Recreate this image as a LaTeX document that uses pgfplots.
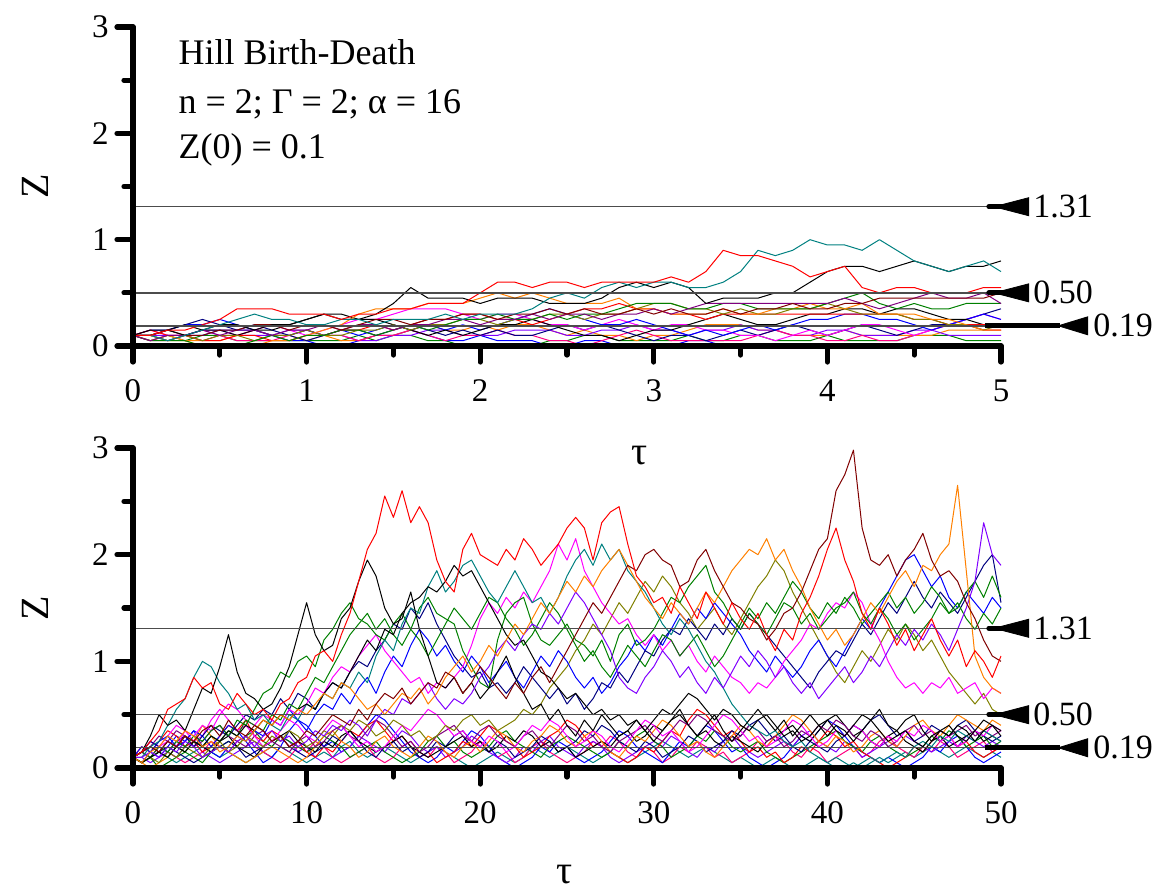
\documentclass[border=0pt]{standalone}
\usepackage{pgfplots}
\usepackage{pgfplotstable}
\pgfplotsset{compat=1.18}
\usepackage{fontspec}
\setmainfont{Liberation Serif}

\definecolor{cRed}{RGB}{255,0,0}
\definecolor{cBlue}{RGB}{0,0,255}
\definecolor{cGreen}{RGB}{0,128,0}
\definecolor{cTeal}{RGB}{0,128,128}
\definecolor{cNavy}{RGB}{0,0,128}
\definecolor{cMagenta}{RGB}{255,0,255}
\definecolor{cOrange}{RGB}{255,128,0}
\definecolor{cViolet}{RGB}{128,0,255}
\definecolor{cWine}{RGB}{128,0,0}
\definecolor{cOlive}{RGB}{128,128,0}
\definecolor{cPink}{RGB}{255,0,128}
\definecolor{cPurple}{RGB}{128,0,128}

% short runs, tau = 0..5 (one row per trajectory)
\pgfplotstableread[header=false,row sep=\\]{
t 0 0.1 0.2 0.3 0.4 0.5 0.6 0.7 0.8 0.9
1 1.1 1.2 1.3 1.4 1.5 1.6 1.7 1.8 1.9
2 2.1 2.2 2.3 2.4 2.5 2.6 2.7 2.8 2.9
3 3.1 3.2 3.3 3.4 3.5 3.6 3.7 3.8 3.9
4 4.1 4.2 4.3 4.4 4.5 4.6 4.7 4.8 4.9
5 \\
ra 0.10 0.10 0.15 0.15 0.20 0.25 0.35 0.35 0.35 0.30
0.30 0.30 0.25 0.30 0.30 0.35 0.35 0.40 0.40 0.40
0.50 0.60 0.60 0.55 0.60 0.60 0.55 0.60 0.60 0.60
0.60 0.65 0.60 0.70 0.90 0.85 0.85 0.80 0.75 0.65
0.70 0.75 0.55 0.50 0.55 0.55 0.50 0.50 0.50 0.55
0.55 \\
ca 0.10 0.10 0.05 0.10 0.15 0.20 0.25 0.30 0.25 0.25
0.20 0.20 0.25 0.25 0.20 0.25 0.25 0.25 0.30 0.25
0.30 0.30 0.30 0.35 0.45 0.50 0.45 0.55 0.60 0.55
0.60 0.60 0.55 0.55 0.60 0.70 0.90 0.85 0.90 1.00
0.95 0.95 0.90 1.00 0.90 0.80 0.75 0.70 0.75 0.80
0.70 \\
ka 0.10 0.15 0.15 0.10 0.15 0.20 0.20 0.15 0.20 0.20
0.25 0.30 0.25 0.25 0.30 0.40 0.55 0.45 0.45 0.45
0.40 0.45 0.45 0.45 0.40 0.40 0.40 0.45 0.55 0.60
0.55 0.60 0.55 0.40 0.45 0.45 0.45 0.50 0.50 0.60
0.70 0.75 0.75 0.70 0.75 0.80 0.75 0.70 0.75 0.75
0.80 \\
wa 0.10 0.10 0.15 0.10 0.10 0.15 0.15 0.20 0.20 0.15
0.20 0.20 0.15 0.20 0.25 0.25 0.20 0.25 0.25 0.30
0.30 0.25 0.30 0.30 0.35 0.30 0.35 0.30 0.30 0.35
0.30 0.35 0.30 0.30 0.35 0.30 0.35 0.35 0.40 0.35
0.35 0.40 0.40 0.45 0.45 0.45 0.45 0.45 0.45 0.45
0.50 \\
pa 0.10 0.05 0.10 0.10 0.15 0.10 0.15 0.15 0.10 0.15
0.15 0.20 0.15 0.20 0.20 0.15 0.20 0.20 0.25 0.25
0.20 0.25 0.25 0.30 0.25 0.30 0.30 0.25 0.30 0.30
0.35 0.30 0.35 0.40 0.40 0.40 0.40 0.40 0.40 0.40
0.40 0.45 0.40 0.35 0.40 0.45 0.50 0.45 0.45 0.50
0.40 \\
ga 0.10 0.05 0.05 0.05 0.00 0.00 0.00 0.05 0.10 0.05
0.10 0.10 0.15 0.15 0.10 0.15 0.20 0.15 0.20 0.25
0.25 0.30 0.25 0.25 0.30 0.25 0.30 0.30 0.35 0.40
0.40 0.40 0.35 0.35 0.40 0.40 0.35 0.35 0.35 0.35
0.40 0.45 0.50 0.40 0.35 0.40 0.35 0.35 0.40 0.40
0.40 \\
oa 0.10 0.10 0.05 0.10 0.05 0.10 0.10 0.05 0.10 0.10
0.15 0.10 0.10 0.15 0.15 0.20 0.15 0.20 0.20 0.25
0.25 0.20 0.25 0.25 0.30 0.30 0.25 0.30 0.30 0.35
0.40 0.40 0.35 0.35 0.30 0.35 0.30 0.30 0.35 0.35
0.40 0.35 0.30 0.30 0.30 0.25 0.25 0.20 0.20 0.15
0.20 \\
ora 0.10 0.10 0.05 0.05 0.00 0.00 0.00 0.00 0.05 0.05
0.10 0.15 0.20 0.30 0.35 0.35 0.35 0.40 0.40 0.40
0.45 0.50 0.45 0.50 0.45 0.40 0.40 0.40 0.45 0.35
0.35 0.30 0.30 0.30 0.35 0.30 0.30 0.35 0.35 0.40
0.35 0.35 0.40 0.30 0.30 0.30 0.25 0.25 0.20 0.15
0.15 \\
ba 0.10 0.15 0.15 0.20 0.20 0.25 0.20 0.15 0.10 0.10
0.15 0.10 0.15 0.10 0.15 0.20 0.15 0.20 0.15 0.20
0.15 0.20 0.25 0.30 0.35 0.30 0.25 0.20 0.20 0.25
0.20 0.15 0.10 0.15 0.10 0.15 0.20 0.15 0.20 0.25
0.25 0.30 0.30 0.25 0.25 0.20 0.15 0.20 0.25 0.30
0.25 \\
na 0.10 0.10 0.15 0.20 0.25 0.20 0.15 0.20 0.15 0.10
0.05 0.10 0.15 0.15 0.10 0.15 0.20 0.15 0.10 0.15
0.10 0.15 0.10 0.10 0.15 0.20 0.15 0.20 0.15 0.10
0.05 0.10 0.10 0.05 0.10 0.15 0.10 0.15 0.20 0.15
0.10 0.15 0.20 0.15 0.10 0.15 0.20 0.20 0.25 0.30
0.35 \\
ma 0.10 0.15 0.10 0.10 0.15 0.10 0.10 0.15 0.20 0.15
0.10 0.15 0.20 0.25 0.25 0.30 0.35 0.35 0.35 0.30
0.25 0.30 0.30 0.25 0.20 0.20 0.15 0.20 0.25 0.20
0.15 0.20 0.20 0.15 0.15 0.10 0.10 0.05 0.10 0.15
0.10 0.15 0.20 0.20 0.15 0.10 0.15 0.20 0.25 0.30
0.25 \\
pka 0.10 0.05 0.05 0.10 0.05 0.10 0.05 0.05 0.05 0.10
0.15 0.10 0.10 0.05 0.10 0.10 0.15 0.10 0.05 0.10
0.10 0.15 0.10 0.10 0.05 0.05 0.00 0.05 0.10 0.15
0.10 0.05 0.05 0.05 0.05 0.05 0.10 0.15 0.10 0.10
0.05 0.05 0.10 0.05 0.05 0.10 0.15 0.20 0.20 0.15
0.15 \\
kb 0.10 0.10 0.15 0.20 0.15 0.15 0.10 0.15 0.15 0.20
0.25 0.30 0.30 0.25 0.25 0.20 0.15 0.10 0.15 0.10
0.15 0.20 0.20 0.25 0.20 0.15 0.10 0.10 0.05 0.10
0.15 0.15 0.20 0.25 0.30 0.25 0.20 0.20 0.25 0.30
0.30 0.35 0.35 0.30 0.35 0.35 0.30 0.25 0.25 0.20
0.20 \\
rb 0.10 0.15 0.10 0.10 0.05 0.05 0.10 0.10 0.05 0.05
0.10 0.10 0.15 0.15 0.20 0.15 0.20 0.25 0.25 0.30
0.30 0.25 0.25 0.20 0.25 0.30 0.35 0.35 0.40 0.35
0.35 0.30 0.30 0.25 0.30 0.30 0.30 0.30 0.30 0.30
0.30 0.30 0.30 0.30 0.30 0.25 0.25 0.20 0.20 0.20
0.20 \\
va 0.10 0.10 0.10 0.10 0.15 0.15 0.10 0.10 0.10 0.15
0.15 0.10 0.10 0.05 0.05 0.10 0.10 0.15 0.15 0.10
0.10 0.10 0.15 0.15 0.15 0.10 0.10 0.15 0.15 0.20
0.15 0.15 0.10 0.15 0.15 0.20 0.15 0.15 0.10 0.10
0.15 0.15 0.10 0.10 0.10 0.15 0.15 0.10 0.10 0.10
0.10 \\
gb 0.10 0.05 0.10 0.05 0.10 0.10 0.05 0.05 0.05 0.05
0.05 0.05 0.05 0.10 0.05 0.10 0.10 0.05 0.05 0.00
0.00 0.00 0.00 0.00 0.05 0.05 0.10 0.10 0.05 0.05
0.05 0.05 0.10 0.05 0.05 0.10 0.10 0.05 0.05 0.05
0.10 0.05 0.05 0.05 0.05 0.10 0.10 0.10 0.05 0.05
0.05 \\
bb 0.10 0.10 0.05 0.10 0.10 0.15 0.15 0.15 0.10 0.05
0.05 0.00 0.00 0.05 0.10 0.10 0.15 0.10 0.05 0.05
0.10 0.05 0.05 0.05 0.00 0.00 0.05 0.05 0.00 0.00
0.00 0.00 0.05 0.05 0.00 0.00 0.00 0.00 0.00 0.00
0.00 0.00 0.00 0.00 0.00 0.00 0.00 0.00 0.00 0.00
0.00 \\
orb 0.10 0.05 0.10 0.05 0.05 0.05 0.10 0.15 0.10 0.10
0.05 0.10 0.05 0.05 0.10 0.10 0.15 0.20 0.15 0.15
0.20 0.15 0.20 0.20 0.15 0.10 0.15 0.10 0.10 0.05
0.10 0.10 0.15 0.20 0.20 0.20 0.15 0.15 0.10 0.10
0.10 0.15 0.10 0.10 0.10 0.10 0.10 0.15 0.15 0.15
0.15 \\
}\toprows
\pgfplotstabletranspose[colnames from=0]\toptab\toprows

% long runs, tau = 0..50 (one row per trajectory)
\pgfplotstableread[header=false,row sep=\\]{
t 0 0.5 1 1.5 2 2.5 3 3.5 4 4.5
5 5.5 6 6.5 7 7.5 8 8.5 9 9.5
10 10.5 11 11.5 12 12.5 13 13.5 14 14.5
15 15.5 16 16.5 17 17.5 18 18.5 19 19.5
20 20.5 21 21.5 22 22.5 23 23.5 24 24.5
25 25.5 26 26.5 27 27.5 28 28.5 29 29.5
30 30.5 31 31.5 32 32.5 33 33.5 34 34.5
35 35.5 36 36.5 37 37.5 38 38.5 39 39.5
40 40.5 41 41.5 42 42.5 43 43.5 44 44.5
45 45.5 46 46.5 47 47.5 48 48.5 49 49.5
50 \\
R 0.10 0.15 0.25 0.35 0.55 0.60 0.65 0.85 0.75 0.80
0.60 0.55 0.70 0.60 0.50 0.55 0.45 0.60 0.65 0.80
0.85 1.05 1.10 1.00 1.25 1.45 1.75 2.05 2.20 2.55
2.35 2.60 2.30 2.45 2.30 1.95 1.75 1.65 2.05 2.20
2.00 1.95 1.90 2.05 1.95 2.15 2.05 1.90 2.00 2.10
2.25 2.35 2.25 1.95 2.30 2.40 2.45 2.10 1.80 1.70
1.55 1.60 1.45 1.70 1.55 1.40 1.65 1.50 1.35 1.55
1.40 1.30 1.45 1.25 1.10 1.30 1.20 1.45 1.60 1.80
2.05 2.25 1.95 1.75 1.45 1.30 1.50 1.35 1.15 1.30
1.10 1.25 1.40 1.20 1.05 1.20 0.95 1.10 1.00 0.85
1.05 \\
K 0.10 0.15 0.30 0.50 0.40 0.45 0.35 0.55 0.75 0.70
0.95 1.25 0.90 0.70 0.65 0.55 0.60 0.75 0.95 1.25
1.55 1.25 1.10 1.15 1.40 1.50 1.75 1.95 1.80 1.50
1.35 1.40 1.65 1.30 1.05 0.80 0.75 0.85 0.70 0.80
0.65 0.75 0.90 1.05 0.85 0.70 0.55 0.60 0.45 0.55
0.40 0.30 0.45 0.35 0.50 0.40 0.30 0.35 0.45 0.35
0.25 0.35 0.45 0.55 0.40 0.30 0.40 0.50 0.35 0.25
0.35 0.45 0.55 0.45 0.35 0.45 0.30 0.40 0.50 0.40
0.30 0.40 0.35 0.25 0.35 0.45 0.55 0.40 0.35 0.45
0.50 0.35 0.25 0.35 0.30 0.40 0.35 0.25 0.35 0.40
0.30 \\
KK 0.10 0.05 0.10 0.15 0.10 0.20 0.15 0.25 0.20 0.30
0.25 0.35 0.30 0.40 0.35 0.45 0.40 0.50 0.45 0.55
0.60 0.55 0.70 0.80 0.75 0.90 1.05 1.20 1.10 1.30
1.25 1.45 1.55 1.60 1.70 1.65 1.75 1.90 1.80 1.85
1.70 1.55 1.40 1.25 1.15 1.20 1.05 0.90 0.85 0.75
0.65 0.70 0.60 0.50 0.55 0.45 0.50 0.40 0.45 0.35
0.45 0.55 0.50 0.60 0.70 0.65 0.55 0.45 0.55 0.50
0.40 0.35 0.45 0.50 0.40 0.30 0.35 0.25 0.30 0.40
0.45 0.35 0.30 0.40 0.50 0.45 0.35 0.25 0.30 0.35
0.25 0.20 0.30 0.35 0.40 0.30 0.25 0.35 0.45 0.40
0.35 \\
C 0.10 0.10 0.20 0.25 0.40 0.55 0.65 0.85 1.00 0.95
0.80 0.70 0.55 0.60 0.45 0.50 0.40 0.35 0.50 0.45
0.60 0.55 0.70 0.65 0.80 0.75 0.90 0.80 1.05 1.20
1.10 1.35 1.50 1.45 1.70 1.85 1.65 1.75 1.90 1.95
1.80 1.65 1.55 1.70 1.85 1.70 1.55 1.60 1.45 1.60
1.80 1.95 2.05 1.90 2.10 1.95 2.05 1.85 1.75 1.65
1.50 1.35 1.25 1.40 1.30 1.15 1.00 0.90 0.75 0.60
0.50 0.40 0.35 0.30 0.35 0.25 0.20 0.25 0.15 0.10
0.05 0.10 0.05 0.00 0.05 0.10 0.05 0.10 0.15 0.10
0.20 0.25 0.20 0.30 0.25 0.35 0.30 0.25 0.35 0.30
0.25 \\
G 0.10 0.15 0.10 0.20 0.15 0.25 0.20 0.30 0.25 0.35
0.40 0.30 0.45 0.40 0.55 0.70 0.75 0.90 0.85 1.00
1.05 0.95 1.20 1.30 1.45 1.55 1.40 1.35 1.25 1.20
1.35 1.45 1.30 1.50 1.60 1.45 1.40 1.35 1.10 0.95
0.80 0.75 1.20 1.45 1.55 1.60 1.35 1.20 1.15 1.25
1.35 1.20 1.15 1.05 1.20 1.00 1.25 1.35 1.15 1.20
1.30 1.45 1.60 1.55 1.70 1.80 1.90 1.65 1.55 1.40
1.30 1.45 1.35 1.25 1.40 1.55 1.50 1.35 1.45 1.30
1.40 1.50 1.55 1.65 1.45 1.35 1.50 1.40 1.25 1.35
1.20 1.30 1.40 1.55 1.45 1.50 1.65 1.75 1.60 1.80
1.60 \\
GG 0.10 0.05 0.10 0.15 0.10 0.20 0.15 0.25 0.20 0.30
0.25 0.35 0.30 0.45 0.40 0.35 0.50 0.45 0.60 0.55
0.70 0.85 0.80 0.95 1.10 1.25 1.35 1.45 1.30 1.40
1.25 1.15 1.30 1.20 1.05 1.20 1.35 1.50 1.40 1.30
1.45 1.60 1.55 1.40 1.30 1.15 1.25 1.40 1.55 1.45
1.30 1.15 1.00 1.10 0.95 0.85 1.00 1.15 1.05 0.95
1.10 1.25 1.20 1.05 1.15 1.25 1.10 0.95 1.05 1.20
1.35 1.50 1.40 1.55 1.45 1.60 1.75 1.65 1.50 1.40
1.55 1.45 1.60 1.50 1.35 1.45 1.55 1.65 1.50 1.60
1.45 1.55 1.70 1.60 1.45 1.55 1.40 1.30 1.45 1.35
1.50 \\
W 0.10 0.15 0.20 0.15 0.25 0.20 0.30 0.25 0.35 0.40
0.30 0.45 0.35 0.30 0.40 0.35 0.25 0.30 0.20 0.25
0.35 0.30 0.40 0.50 0.45 0.40 0.55 0.45 0.60 0.70
0.65 0.75 0.60 0.70 0.80 0.75 0.90 0.85 0.70 0.80
0.95 0.85 0.75 0.65 0.80 0.70 0.85 0.95 0.80 0.95
1.10 1.25 1.40 1.55 1.45 1.60 1.75 1.90 1.85 2.00
2.05 1.95 1.90 1.70 1.75 1.95 2.05 1.85 1.70 1.55
1.50 1.40 1.35 1.20 1.30 1.45 1.50 1.65 1.85 2.05
2.15 2.60 2.75 2.98 2.25 1.95 1.90 2.00 1.80 1.95
2.05 2.20 1.95 1.80 1.85 1.75 1.55 1.40 1.20 1.05
1.00 \\
O 0.10 0.05 0.15 0.20 0.30 0.25 0.35 0.30 0.20 0.25
0.15 0.20 0.30 0.25 0.35 0.45 0.40 0.50 0.45 0.55
0.50 0.60 0.70 0.65 0.80 0.75 0.65 0.55 0.60 0.50
0.60 0.70 0.65 0.75 0.60 0.70 0.85 0.95 1.05 0.90
1.00 1.15 1.05 1.20 1.35 1.25 1.40 1.55 1.45 1.60
1.75 1.65 1.80 1.70 1.85 1.95 2.05 1.90 1.75 1.60
1.50 1.40 1.55 1.45 1.35 1.50 1.65 1.55 1.70 1.85
1.95 2.05 2.00 2.15 1.95 2.05 1.85 1.70 1.50 1.35
1.20 1.30 1.15 1.25 1.40 1.55 1.45 1.60 1.75 1.85
1.70 1.90 1.85 2.00 2.10 2.65 1.85 1.05 0.85 0.75
0.70 \\
V 0.10 0.10 0.15 0.10 0.20 0.15 0.25 0.20 0.10 0.15
0.20 0.15 0.25 0.30 0.20 0.30 0.35 0.25 0.30 0.20
0.25 0.35 0.30 0.40 0.35 0.45 0.40 0.30 0.45 0.55
0.50 0.65 0.60 0.70 0.80 0.65 0.55 0.65 0.60 0.70
0.85 0.95 1.10 1.20 1.10 1.25 1.35 1.30 1.45 1.35
1.50 1.65 1.55 1.40 1.25 1.10 0.85 0.75 0.70 0.85
0.95 1.10 1.00 0.85 0.95 0.80 0.70 0.85 0.75 0.90
1.05 0.95 1.10 1.00 0.85 0.95 0.80 0.70 0.80 0.65
0.75 0.85 0.95 0.80 0.90 1.05 0.95 1.10 1.25 1.15
1.30 1.20 1.35 1.25 1.10 1.30 1.50 1.75 2.30 2.00
1.90 \\
M 0.10 0.15 0.10 0.20 0.25 0.20 0.35 0.30 0.40 0.35
0.50 0.60 0.55 0.45 0.40 0.50 0.45 0.40 0.55 0.50
0.60 0.75 0.70 0.85 0.95 0.90 1.05 1.15 1.25 1.10
1.00 0.90 0.80 0.85 0.70 0.80 0.75 0.85 0.95 1.15
1.40 1.55 1.45 1.60 1.50 1.65 1.55 1.70 1.85 2.10
1.95 2.15 1.85 1.70 1.55 1.45 1.35 1.40 1.25 1.15
1.25 1.10 1.20 1.05 1.15 1.00 0.90 1.05 0.95 0.85
0.80 0.70 0.80 0.75 0.85 1.00 1.10 1.20 1.35 1.30
1.45 1.55 1.50 1.65 1.55 1.35 1.20 1.00 0.85 0.75
0.80 0.70 0.80 0.75 0.85 0.70 0.75 0.80 0.65 0.75
0.70 \\
N 0.10 0.15 0.25 0.20 0.15 0.25 0.30 0.20 0.30 0.40
0.35 0.30 0.40 0.50 0.45 0.55 0.50 0.65 0.55 0.70
0.65 0.55 0.70 0.80 0.75 0.90 1.00 0.95 1.10 1.20
1.35 1.30 1.50 1.40 1.55 1.35 1.20 1.05 0.95 0.85
0.90 0.75 0.80 0.70 0.80 0.95 0.85 0.75 0.65 0.75
0.60 0.70 0.55 0.65 0.80 0.75 0.90 0.80 0.95 1.10
1.05 1.20 1.30 1.25 1.40 1.30 1.20 1.35 1.25 1.40
1.30 1.45 1.35 1.25 1.15 1.05 0.95 0.85 0.75 0.90
1.00 1.10 1.05 1.20 1.35 1.25 1.40 1.55 1.45 1.60
1.75 1.60 1.50 1.65 1.55 1.45 1.60 1.75 1.90 2.00
1.55 \\
B 0.10 0.20 0.15 0.25 0.30 0.20 0.25 0.35 0.30 0.20
0.30 0.40 0.35 0.25 0.35 0.30 0.45 0.40 0.55 0.45
0.35 0.50 0.60 0.55 0.70 0.60 0.75 0.85 0.70 0.90
1.05 0.95 1.15 1.30 1.20 1.05 1.15 1.00 0.90 1.05
0.95 0.80 0.90 1.00 0.85 0.75 0.90 1.05 0.95 1.10
1.00 0.85 0.75 0.85 0.70 0.80 0.95 1.05 1.20 1.10
1.25 1.15 1.30 1.45 1.35 1.50 1.40 1.55 1.45 1.35
1.25 1.10 1.00 0.90 1.05 0.95 0.85 0.95 1.10 1.20
1.05 0.95 1.10 1.25 1.40 1.30 1.50 1.65 1.80 1.95
2.00 1.85 1.70 1.80 1.60 1.50 1.65 1.55 1.45 1.60
1.50 \\
OL 0.10 0.05 0.10 0.05 0.15 0.10 0.20 0.15 0.10 0.20
0.25 0.15 0.20 0.30 0.25 0.20 0.30 0.25 0.35 0.30
0.20 0.25 0.35 0.30 0.40 0.35 0.45 0.40 0.30 0.35
0.45 0.40 0.30 0.35 0.25 0.30 0.40 0.35 0.45 0.50
0.40 0.45 0.35 0.40 0.45 0.55 0.50 0.60 0.75 0.85
0.95 1.10 1.20 1.35 1.25 1.40 1.55 1.45 1.60 1.75
1.65 1.80 1.70 1.55 1.45 1.30 1.40 1.50 1.35 1.25
1.40 1.55 1.70 1.80 1.95 1.85 1.65 1.50 1.35 1.20
1.05 0.90 0.80 0.95 1.10 1.00 1.15 1.30 1.20 1.35
1.25 1.10 1.20 1.05 0.90 0.80 0.70 0.60 0.70 0.55
0.50 \\
la 0.10 0.15 0.20 0.15 0.25 0.20 0.30 0.25 0.20 0.15
0.25 0.30 0.20 0.15 0.10 0.20 0.25 0.30 0.35 0.25
0.20 0.15 0.25 0.20 0.30 0.35 0.25 0.20 0.15 0.20
0.25 0.30 0.20 0.15 0.10 0.15 0.20 0.25 0.30 0.20
0.25 0.15 0.20 0.30 0.25 0.35 0.30 0.20 0.25 0.15
0.20 0.10 0.15 0.20 0.25 0.20 0.30 0.35 0.25 0.30
0.40 0.35 0.45 0.50 0.40 0.30 0.35 0.25 0.20 0.30
0.25 0.20 0.15 0.25 0.30 0.35 0.40 0.30 0.25 0.35
0.45 0.50 0.40 0.30 0.35 0.25 0.20 0.30 0.35 0.25
0.20 0.15 0.25 0.30 0.20 0.25 0.30 0.35 0.25 0.30
0.25 \\
lb 0.10 0.20 0.15 0.25 0.35 0.30 0.20 0.25 0.15 0.20
0.30 0.40 0.35 0.45 0.30 0.25 0.35 0.30 0.20 0.25
0.15 0.10 0.20 0.15 0.25 0.35 0.30 0.40 0.45 0.35
0.25 0.30 0.20 0.10 0.15 0.05 0.10 0.15 0.25 0.20
0.30 0.40 0.35 0.25 0.20 0.10 0.15 0.20 0.30 0.35
0.45 0.40 0.30 0.20 0.25 0.15 0.10 0.05 0.10 0.20
0.15 0.25 0.35 0.30 0.45 0.55 0.50 0.40 0.30 0.35
0.25 0.15 0.20 0.10 0.15 0.05 0.10 0.20 0.15 0.25
0.35 0.30 0.20 0.25 0.15 0.10 0.05 0.00 0.05 0.10
0.20 0.15 0.25 0.35 0.30 0.20 0.25 0.15 0.10 0.15
0.20 \\
lc 0.10 0.05 0.15 0.10 0.20 0.30 0.25 0.35 0.20 0.15
0.10 0.20 0.30 0.25 0.15 0.05 0.10 0.20 0.35 0.45
0.40 0.30 0.20 0.25 0.15 0.20 0.30 0.40 0.50 0.45
0.35 0.25 0.15 0.10 0.05 0.10 0.20 0.15 0.25 0.35
0.30 0.20 0.10 0.05 0.00 0.05 0.10 0.20 0.15 0.25
0.20 0.10 0.05 0.10 0.15 0.25 0.35 0.30 0.20 0.15
0.10 0.05 0.15 0.25 0.20 0.30 0.40 0.35 0.25 0.15
0.20 0.10 0.05 0.00 0.05 0.10 0.20 0.30 0.25 0.35
0.45 0.40 0.30 0.20 0.15 0.10 0.05 0.10 0.05 0.00
0.05 0.10 0.20 0.15 0.25 0.30 0.20 0.10 0.05 0.10
0.15 \\
ld 0.10 0.15 0.25 0.20 0.30 0.40 0.35 0.25 0.30 0.45
0.55 0.45 0.35 0.40 0.30 0.20 0.25 0.35 0.45 0.40
0.30 0.25 0.35 0.45 0.40 0.30 0.20 0.25 0.15 0.20
0.30 0.40 0.35 0.45 0.55 0.50 0.40 0.30 0.35 0.25
0.20 0.30 0.25 0.15 0.20 0.30 0.40 0.35 0.45 0.40
0.30 0.20 0.25 0.35 0.30 0.20 0.15 0.25 0.35 0.45
0.40 0.30 0.35 0.25 0.15 0.20 0.30 0.40 0.50 0.45
0.35 0.25 0.30 0.20 0.25 0.35 0.45 0.40 0.30 0.20
0.25 0.35 0.30 0.40 0.35 0.25 0.20 0.30 0.25 0.35
0.30 0.40 0.35 0.25 0.30 0.20 0.25 0.35 0.30 0.40
0.35 \\
le 0.10 0.05 0.10 0.20 0.15 0.10 0.05 0.10 0.15 0.25
0.20 0.15 0.25 0.30 0.20 0.15 0.10 0.05 0.10 0.20
0.15 0.25 0.20 0.10 0.05 0.10 0.15 0.20 0.10 0.05
0.10 0.20 0.25 0.15 0.10 0.20 0.15 0.05 0.10 0.15
0.25 0.20 0.10 0.15 0.05 0.10 0.20 0.25 0.15 0.10
0.05 0.10 0.15 0.25 0.20 0.30 0.25 0.15 0.10 0.20
0.15 0.05 0.10 0.20 0.15 0.25 0.20 0.10 0.15 0.05
0.10 0.15 0.25 0.20 0.30 0.25 0.15 0.10 0.20 0.15
0.05 0.10 0.15 0.20 0.10 0.15 0.25 0.30 0.20 0.15
0.10 0.20 0.15 0.25 0.20 0.10 0.15 0.20 0.25 0.15
0.20 \\
lf 0.10 0.10 0.05 0.10 0.15 0.10 0.20 0.25 0.15 0.10
0.05 0.10 0.15 0.20 0.25 0.15 0.20 0.30 0.25 0.15
0.20 0.10 0.05 0.10 0.15 0.20 0.30 0.25 0.20 0.15
0.25 0.35 0.30 0.20 0.15 0.20 0.10 0.15 0.20 0.30
0.25 0.15 0.10 0.05 0.10 0.20 0.15 0.25 0.30 0.20
0.15 0.10 0.20 0.25 0.20 0.10 0.05 0.10 0.15 0.20
0.25 0.20 0.30 0.25 0.15 0.10 0.20 0.15 0.25 0.30
0.20 0.15 0.10 0.15 0.20 0.25 0.20 0.30 0.35 0.25
0.20 0.15 0.25 0.20 0.10 0.15 0.20 0.25 0.20 0.30
0.25 0.20 0.15 0.20 0.25 0.20 0.30 0.25 0.20 0.25
0.20 \\
lg 0.10 0.15 0.10 0.15 0.20 0.15 0.10 0.05 0.10 0.15
0.20 0.25 0.20 0.10 0.15 0.20 0.25 0.30 0.20 0.15
0.10 0.15 0.20 0.30 0.25 0.35 0.25 0.15 0.10 0.20
0.25 0.15 0.20 0.10 0.15 0.25 0.20 0.30 0.35 0.25
0.20 0.15 0.25 0.20 0.10 0.15 0.20 0.30 0.25 0.15
0.20 0.25 0.35 0.30 0.40 0.35 0.25 0.20 0.15 0.25
0.20 0.10 0.15 0.20 0.30 0.25 0.15 0.20 0.25 0.35
0.30 0.40 0.45 0.35 0.25 0.30 0.20 0.15 0.25 0.20
0.15 0.25 0.30 0.40 0.35 0.45 0.50 0.40 0.30 0.35
0.25 0.30 0.40 0.35 0.30 0.40 0.45 0.35 0.30 0.25
0.30 \\
lh 0.10 0.05 0.10 0.15 0.10 0.05 0.10 0.15 0.20 0.15
0.10 0.15 0.10 0.05 0.10 0.15 0.10 0.20 0.15 0.10
0.05 0.10 0.15 0.10 0.20 0.25 0.15 0.10 0.15 0.20
0.15 0.10 0.05 0.10 0.15 0.20 0.15 0.10 0.05 0.00
0.05 0.10 0.15 0.10 0.05 0.10 0.20 0.15 0.10 0.15
0.20 0.15 0.10 0.05 0.10 0.15 0.10 0.05 0.10 0.15
0.20 0.25 0.20 0.15 0.10 0.15 0.20 0.15 0.10 0.05
0.10 0.05 0.00 0.05 0.10 0.05 0.00 0.00 0.05 0.10
0.05 0.00 0.00 0.05 0.00 0.05 0.10 0.05 0.10 0.15
0.10 0.15 0.20 0.15 0.10 0.15 0.20 0.15 0.10 0.15
0.10 \\
li 0.10 0.05 0.00 0.05 0.10 0.20 0.30 0.25 0.40 0.30
0.20 0.15 0.10 0.05 0.10 0.15 0.20 0.15 0.10 0.05
0.10 0.20 0.30 0.35 0.25 0.20 0.10 0.15 0.25 0.30
0.20 0.15 0.10 0.20 0.30 0.25 0.15 0.10 0.20 0.25
0.15 0.25 0.35 0.30 0.20 0.15 0.25 0.30 0.40 0.35
0.25 0.20 0.30 0.35 0.25 0.15 0.10 0.20 0.30 0.25
0.35 0.45 0.40 0.30 0.20 0.25 0.15 0.10 0.20 0.30
0.40 0.35 0.25 0.20 0.30 0.40 0.50 0.45 0.35 0.25
0.20 0.30 0.25 0.15 0.20 0.30 0.35 0.25 0.20 0.30
0.40 0.45 0.35 0.30 0.40 0.50 0.45 0.40 0.35 0.45
0.40 \\
lj 0.10 0.05 0.10 0.00 0.05 0.10 0.15 0.10 0.05 0.15
0.20 0.25 0.20 0.30 0.35 0.25 0.20 0.30 0.25 0.20
0.15 0.20 0.30 0.25 0.20 0.10 0.15 0.20 0.25 0.15
0.10 0.05 0.10 0.15 0.25 0.30 0.20 0.25 0.15 0.10
0.15 0.20 0.30 0.35 0.25 0.20 0.15 0.10 0.20 0.25
0.30 0.25 0.20 0.15 0.10 0.15 0.25 0.20 0.30 0.35
0.25 0.20 0.10 0.15 0.20 0.30 0.25 0.35 0.30 0.20
0.15 0.20 0.25 0.15 0.10 0.05 0.10 0.15 0.20 0.25
0.30 0.35 0.25 0.20 0.15 0.25 0.30 0.20 0.15 0.10
0.15 0.20 0.30 0.25 0.35 0.30 0.20 0.25 0.30 0.20
0.25 \\
lk 0.10 0.15 0.20 0.30 0.25 0.35 0.30 0.20 0.25 0.35
0.40 0.30 0.25 0.20 0.30 0.35 0.25 0.20 0.15 0.25
0.30 0.20 0.25 0.35 0.40 0.30 0.25 0.35 0.45 0.40
0.30 0.20 0.25 0.15 0.20 0.30 0.35 0.40 0.30 0.25
0.35 0.40 0.30 0.25 0.20 0.30 0.35 0.25 0.20 0.30
0.40 0.35 0.25 0.30 0.20 0.15 0.25 0.30 0.35 0.40
0.30 0.25 0.35 0.45 0.40 0.50 0.45 0.35 0.30 0.25
0.30 0.40 0.35 0.25 0.30 0.20 0.25 0.35 0.30 0.40
0.35 0.45 0.40 0.30 0.25 0.35 0.30 0.20 0.25 0.35
0.40 0.30 0.35 0.25 0.30 0.35 0.40 0.30 0.35 0.30
0.35 \\
}\botrows
\pgfplotstabletranspose[colnames from=0]\bottab\botrows

\pgfplotsset{
  hbd/.style={
    scale only axis,
    anchor=south west,
    xmin=0, ymin=0, ymax=3,
    axis x line*=bottom, axis y line*=left,
    tick align=outside,
    major tick length=8pt, minor tick length=4.5pt,
    every tick/.style={black, line width=2.6pt, line cap=round},
    ytick={0,1,2,3}, minor ytick={0.5,1.5,2.5},
    tick label style={font=\fontsize{16.5}{16.5}\selectfont, inner sep=0pt},
    xticklabel style={anchor=north, yshift=-8.5pt},
    yticklabel style={anchor=east, xshift=-4pt},
    /pgf/number format/assume math mode=true,
    label style={font=\fontsize{20}{20}\selectfont},
    ylabel={Z}, xlabel={τ},
    ylabel style={at={(axis description cs:-0.113,0.5)}, anchor=center},
    clip=false,
  },
  traj/.style={line width=0.5pt, line join=round},
  refline/.style={line width=0.7pt, color=black!70},
}
\tikzset{
  tag/.style={anchor=west, inner sep=0pt, font=\fontsize{17}{17}\selectfont},
  spine/.style={black, line width=2.8pt, line cap=round},
}

\begin{document}
\begin{tikzpicture}
\path[use as bounding box] (0,0) rectangle (578.5pt,-445pt);

% ---------- tau up to 5 ----------
\begin{axis}[hbd, at={(66.5pt,-173pt)}, width=434pt, height=159.5pt,
  xmax=5, xtick={0,1,...,5}, minor xtick={0.5,1.5,...,4.5},
  axis line style={line width=2.8pt},
  xlabel style={at={(axis description cs:0.584,-0.342)}, anchor=center}]
\addplot[traj, cGreen]   table[x=t,y=gb]{\toptab};
\addplot[traj, cBlue]    table[x=t,y=bb]{\toptab};
\addplot[traj, cOrange]  table[x=t,y=orb]{\toptab};
\addplot[traj, cViolet]  table[x=t,y=va]{\toptab};
\addplot[traj, cPink]    table[x=t,y=pka]{\toptab};
\addplot[traj, cNavy]    table[x=t,y=na]{\toptab};
\addplot[traj, cMagenta] table[x=t,y=ma]{\toptab};
\addplot[traj, cBlue]    table[x=t,y=ba]{\toptab};
\addplot[traj, black]    table[x=t,y=kb]{\toptab};
\addplot[traj, cRed]     table[x=t,y=rb]{\toptab};
\addplot[traj, cOlive]   table[x=t,y=oa]{\toptab};
\addplot[traj, cOrange]  table[x=t,y=ora]{\toptab};
\addplot[traj, cGreen]   table[x=t,y=ga]{\toptab};
\addplot[traj, cPurple]  table[x=t,y=pa]{\toptab};
\addplot[traj, cWine]    table[x=t,y=wa]{\toptab};
\addplot[traj, black]    table[x=t,y=ka]{\toptab};
\addplot[traj, cTeal]    table[x=t,y=ca]{\toptab};
\addplot[traj, cRed]     table[x=t,y=ra]{\toptab};
% reference levels
\addplot[refline] coordinates {(0,1.31) (4.93,1.31)};
\addplot[refline] coordinates {(0,0.50) (4.93,0.50)};
\addplot[refline] coordinates {(0,0.19) (4.91,0.19)};
\addplot[black, line width=2.5pt, line cap=round] coordinates {(4.93,1.31) (5.02,1.31)};
\addplot[black, fill=black, line width=0.4pt] coordinates {(4.96,1.31) (5.16,1.395) (5.16,1.225)} -- cycle;
\addplot[black, line width=2.5pt, line cap=round] coordinates {(4.93,0.50) (5.02,0.50)};
\addplot[black, fill=black, line width=0.4pt] coordinates {(4.96,0.50) (5.16,0.585) (5.16,0.415)} -- cycle;
\addplot[black, line width=2.5pt] coordinates {(4.91,0.19) (5.34,0.19)};
\addplot[black, fill=black, line width=0.4pt] coordinates {(5.33,0.19) (5.50,0.275) (5.50,0.105)} -- cycle;
\node[tag] at (axis cs:5.184,1.31) {1.31};
\node[tag] at (axis cs:5.184,0.50) {0.50};
\node[tag] at (axis cs:5.53,0.19) {0.19};
% run parameters
\node[anchor=base west, inner sep=0pt, font=\fontsize{18}{18}\selectfont] at (axis cs:0.26,2.643) {Hill Birth-Death};
\node[anchor=base west, inner sep=0pt, font=\fontsize{18}{18}\selectfont] at (axis cs:0.26,2.19) {n = 2; Γ = 2; α = 16};
\node[anchor=base west, inner sep=0pt, font=\fontsize{18}{18}\selectfont] at (axis cs:0.26,1.76) {Z(0) = 0.1};
% heavy spines
\draw[spine] (axis description cs:0,1) -- (axis description cs:0,0) -- (axis description cs:1,0);
\end{axis}

% ---------- tau up to 50 ----------
\begin{axis}[hbd, at={(66.5pt,-384pt)}, width=434pt, height=160pt,
  xmax=50, xtick={0,10,...,50}, minor xtick={5,15,...,45},
  axis line style={line width=2.8pt},
  xlabel style={at={(axis description cs:0.497,-0.333)}, anchor=center}]
\addplot[traj, cTeal]    table[x=t,y=lh]{\bottab};
\addplot[traj, cPink]    table[x=t,y=le]{\bottab};
\addplot[traj, cBlue]    table[x=t,y=lc]{\bottab};
\addplot[traj, cViolet]  table[x=t,y=lf]{\bottab};
\addplot[traj, cGreen]   table[x=t,y=lj]{\bottab};
\addplot[traj, cRed]     table[x=t,y=lb]{\bottab};
\addplot[traj, cNavy]    table[x=t,y=lg]{\bottab};
\addplot[traj, black]    table[x=t,y=la]{\bottab};
\addplot[traj, cOrange]  table[x=t,y=li]{\bottab};
\addplot[traj, cPurple]  table[x=t,y=lk]{\bottab};
\addplot[traj, cMagenta] table[x=t,y=ld]{\bottab};
\addplot[traj, cOlive]   table[x=t,y=OL]{\bottab};
\addplot[traj, cBlue]    table[x=t,y=B]{\bottab};
\addplot[traj, cNavy]    table[x=t,y=N]{\bottab};
\addplot[traj, cMagenta] table[x=t,y=M]{\bottab};
\addplot[traj, cGreen]   table[x=t,y=GG]{\bottab};
\addplot[traj, cGreen]   table[x=t,y=G]{\bottab};
\addplot[traj, cTeal]    table[x=t,y=C]{\bottab};
\addplot[traj, black]    table[x=t,y=KK]{\bottab};
\addplot[traj, black]    table[x=t,y=K]{\bottab};
\addplot[traj, cViolet]  table[x=t,y=V]{\bottab};
\addplot[traj, cOrange]  table[x=t,y=O]{\bottab};
\addplot[traj, cWine]    table[x=t,y=W]{\bottab};
\addplot[traj, cRed]     table[x=t,y=R]{\bottab};
% reference levels
\addplot[refline] coordinates {(0,1.31) (49.3,1.31)};
\addplot[refline] coordinates {(0,0.50) (49.3,0.50)};
\addplot[refline] coordinates {(0,0.19) (49.1,0.19)};
\addplot[black, line width=2.5pt, line cap=round] coordinates {(49.3,1.31) (50.2,1.31)};
\addplot[black, fill=black, line width=0.4pt] coordinates {(49.6,1.31) (51.6,1.395) (51.6,1.225)} -- cycle;
\addplot[black, line width=2.5pt, line cap=round] coordinates {(49.3,0.50) (50.2,0.50)};
\addplot[black, fill=black, line width=0.4pt] coordinates {(49.6,0.50) (51.6,0.585) (51.6,0.415)} -- cycle;
\addplot[black, line width=2.5pt] coordinates {(49.1,0.19) (53.4,0.19)};
\addplot[black, fill=black, line width=0.4pt] coordinates {(53.3,0.19) (55.0,0.275) (55.0,0.105)} -- cycle;
\node[tag] at (axis cs:51.84,1.31) {1.31};
\node[tag] at (axis cs:51.84,0.50) {0.50};
\node[tag] at (axis cs:55.3,0.19) {0.19};
% heavy spines
\draw[spine] (axis description cs:0,1) -- (axis description cs:0,0) -- (axis description cs:1,0);
\end{axis}
\end{tikzpicture}
\end{document}
